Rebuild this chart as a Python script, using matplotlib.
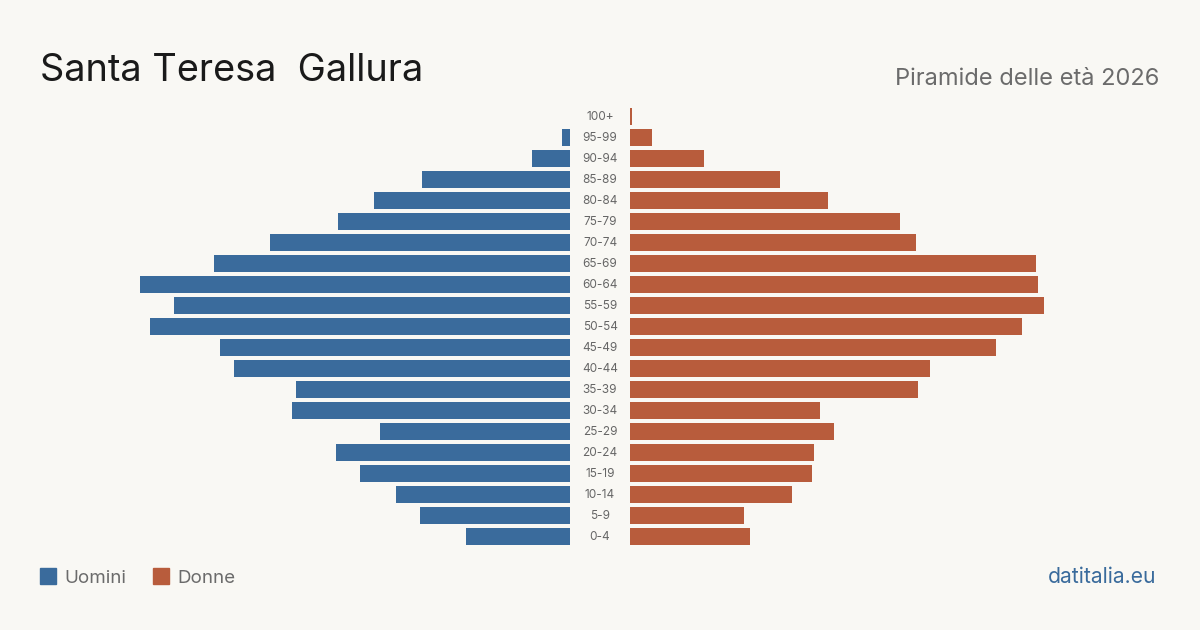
import matplotlib
matplotlib.use("Agg")
import matplotlib.pyplot as plt
from matplotlib.patches import Rectangle

age_groups = ["0-4", "5-9", "10-14", "15-19", "20-24", "25-29", "30-34", "35-39",
              "40-44", "45-49", "50-54", "55-59", "60-64", "65-69", "70-74", "75-79",
              "80-84", "85-89", "90-94", "95-99", "100+"]
men = [52, 75, 87, 105, 117, 95, 139, 137, 168, 175, 210, 198, 215, 178, 150, 116,
       98, 74, 19, 4, 0]
women = [60, 57, 81, 91, 92, 102, 95, 144, 150, 183, 196, 207, 204, 203, 143, 135,
         99, 75, 37, 11, 1]

title = "Santa Teresa  Gallura"
subtitle = "Piramide delle età 2026"
source = "datitalia.eu"
legend_labels = ["Uomini", "Donne"]

BG = "#f9f8f4"
BLUE = "#3a6b9c"
ORANGE = "#b85c3c"
W, H = 1200, 630
XMAX = 235  # data units shown across 470 px

plt.rcParams["font.family"] = ["Inter", "DejaVu Sans"]
fig = plt.figure(figsize=(12, 6.3), dpi=100, facecolor=BG)

def px_axes(x0, y0, x1, y1):
    return fig.add_axes([x0 / W, 1 - y1 / H, (x1 - x0) / W, (y1 - y0) / H])

ax_l = px_axes(100, 106, 570, 547)
ax_r = px_axes(630, 106, 1100, 547)
ypos = list(range(len(age_groups)))
ax_l.barh(ypos, men, height=0.8, color=BLUE)
ax_r.barh(ypos, women, height=0.8, color=ORANGE)
ax_l.set_xlim(XMAX, 0)
ax_r.set_xlim(0, XMAX)
for ax in (ax_l, ax_r):
    ax.set_ylim(-0.5, len(age_groups) - 0.5)
    ax.axis("off")
    ax.patch.set_alpha(0)

# age labels in the middle gap
for i, lab in enumerate(age_groups):
    y = 1 - (537 - 21 * i) / H
    fig.text(600 / W, y, lab, ha="center", va="center", fontsize=8.5, color="#666666")

fig.text(40 / W, 1 - 81 / H, title, fontsize=27.3, color="#1a1a1a", ha="left", va="baseline")
fig.text(1159 / W, 1 - 85 / H, subtitle, fontsize=17, color="#6b6b6b", ha="right", va="baseline")

# legend
for (x, lab, col) in [(40, legend_labels[0], BLUE), (153, legend_labels[1], ORANGE)]:
    fig.patches.append(Rectangle((x / W, 1 - 584 / H), 16 / W, 16 / H,
                                 transform=fig.transFigure, color=col))
    fig.text((x + 24) / W, 1 - 583 / H, lab, fontsize=13.5, color="#6b6b6b",
             ha="left", va="baseline")

fig.text(1156 / W, 1 - 583 / H, source, fontsize=15.2, color=BLUE, ha="right", va="baseline")

fig.savefig("out.png", dpi=100, facecolor=BG)
